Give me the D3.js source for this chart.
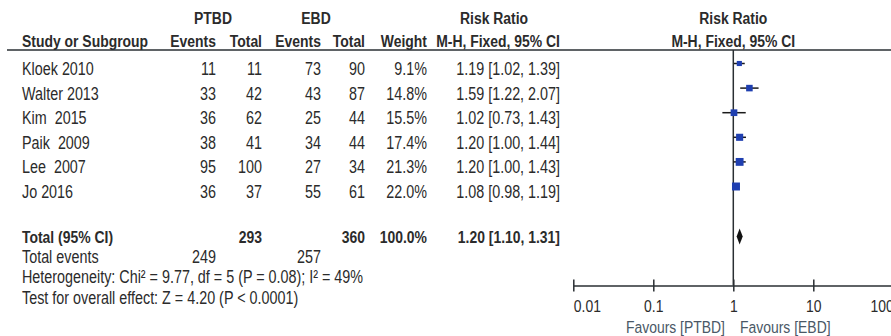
<!DOCTYPE html>
<html>
<head>
<meta charset="utf-8">
<script src="https://cdn.jsdelivr.net/npm/d3@7"></script>
<style>
  html, body { margin: 0; padding: 0; background: #fff; }
  svg { display: block; }
  text { font-size: 17.5px; fill: #2b2b2b; white-space: pre; }
  text.b { font-size: 17px; }
</style>
</head>
<body>
<svg id="chart" width="891" height="336"></svg>
<script>
// ---- data ----
const studies    = ["Kloek 2010", "Walter 2013", "Kim  2015", "Paik  2009", "Lee  2007", "Jo 2016"];
const ptbdEvents = [11, 33, 36, 38, 95, 36];
const ptbdTotal  = [11, 42, 62, 41, 100, 37];
const ebdEvents  = [73, 43, 25, 34, 27, 55];
const ebdTotal   = [90, 87, 44, 44, 34, 61];
const weights    = [9.1, 14.8, 15.5, 17.4, 21.3, 22.0];
const riskRatio  = [1.19, 1.59, 1.02, 1.20, 1.20, 1.08];
const ciLow      = [1.02, 1.22, 0.73, 1.00, 1.00, 0.98];
const ciHigh     = [1.39, 2.07, 1.43, 1.44, 1.43, 1.19];
const pooled     = [1.20, 1.10, 1.31];          // estimate, lower, upper
const totals     = [293, 360, 100.0];            // PTBD total, EBD total, weight
const totalEvents = [249, 257];
const heterogeneity = "Heterogeneity: Chi\u00b2 = 9.77, df = 5 (P = 0.08); I\u00b2 = 49%";
const overallTest   = "Test for overall effect: Z = 4.20 (P < 0.0001)";
const axisTicks  = [0.01, 0.1, 1, 10, 100];
const favours    = ["Favours [PTBD]", "Favours [EBD]"];

// ---- font: prefer a narrow sans; otherwise squeeze a regular one ----
function hasFont(name) {
  const c = document.createElement("canvas").getContext("2d");
  const probe = "Study or Subgroup 0123456789";
  c.font = "40px monospace";
  const a = c.measureText(probe).width;
  c.font = `40px "${name}", monospace`;
  const b = c.measureText(probe).width;
  return Math.abs(a - b) > 1;
}
const narrow = hasFont("Liberation Sans Narrow") || hasFont("Arial Narrow");
const FAMILY = narrow ? '"Liberation Sans Narrow", "Arial Narrow", sans-serif'
                      : '"Liberation Sans", Arial, sans-serif';
const SX = narrow ? 1 : 0.82;

const svg = d3.select("#chart");
svg.style("font-family", FAMILY);

function label(parent, x, y, s, anchor = "start", bold = false) {
  return parent.append("text")
    .attr("class", bold ? "b" : null)
    .attr("transform", `translate(${x},${y}) scale(${SX},1)`)
    .attr("text-anchor", anchor)
    .attr("font-weight", bold ? "bold" : null)
    .style("font-family", FAMILY)
    .text(s);
}

// ---- layout ----
const col = { study: 22, evA: 216, totA: 262, evB: 321, totB: 365, weight: 427, rr: 560 };
const headY1 = 24, headY2 = 47, ruleY = 50;
const axisY = 285.5;
const rowY = d3.scaleLinear().domain([0, studies.length - 1]).range([75, 198]);
const markOffset = -11.5;
const x = d3.scaleLog().domain([0.01, 100]).range([573.3, 893.3]);
const fmt2 = d3.format(".2f");
const ink = "#2a2f33";

const table = svg.append("g");

// header
label(table, 213, headY1, "PTBD", "middle", true);
label(table, 316, headY1, "EBD", "middle", true);
label(table, 494, headY1, "Risk Ratio", "middle", true);
label(table, x(1), headY1, "Risk Ratio", "middle", true);

label(table, col.study, headY2, "Study or Subgroup", "start", true);
label(table, col.evA, headY2, "Events", "end", true);
label(table, col.totA, headY2, "Total", "end", true);
label(table, col.evB, headY2, "Events", "end", true);
label(table, col.totB, headY2, "Total", "end", true);
label(table, col.weight, headY2, "Weight", "end", true);
label(table, col.rr, headY2, "M-H, Fixed, 95% CI", "end", true);
label(table, x(1), headY2, "M-H, Fixed, 95% CI", "middle", true);

svg.append("line")
  .attr("x1", 7).attr("x2", 891).attr("y1", ruleY).attr("y2", ruleY)
  .attr("stroke", ink).attr("stroke-width", 1.5);

// study rows
studies.forEach((s, i) => {
  const y = rowY(i);
  label(table, col.study, y, s);
  label(table, col.evA, y, ptbdEvents[i], "end");
  label(table, col.totA, y, ptbdTotal[i], "end");
  label(table, col.evB, y, ebdEvents[i], "end");
  label(table, col.totB, y, ebdTotal[i], "end");
  label(table, col.weight, y, d3.format(".1f")(weights[i]) + "%", "end");
  label(table, col.rr, y, `${fmt2(riskRatio[i])} [${fmt2(ciLow[i])}, ${fmt2(ciHigh[i])}]`, "end");
});

// totals
const totY = 243;
label(table, col.study, totY, "Total (95% CI)", "start", true);
label(table, col.totA, totY, totals[0], "end", true);
label(table, col.totB, totY, totals[1], "end", true);
label(table, col.weight, totY, d3.format(".1f")(totals[2]) + "%", "end", true);
label(table, col.rr, totY, `${fmt2(pooled[0])} [${fmt2(pooled[1])}, ${fmt2(pooled[2])}]`, "end", true);

label(table, col.study, 263, "Total events");
label(table, col.evA, 263, totalEvents[0], "end");
label(table, col.evB, 263, totalEvents[1], "end");
label(table, col.study, 283, heterogeneity);
label(table, col.study, 304, overallTest);

// ---- forest plot ----
const plot = svg.append("g");

plot.append("line")
  .attr("x1", x(1)).attr("x2", x(1)).attr("y1", ruleY).attr("y2", axisY)
  .attr("stroke", ink).attr("stroke-width", 1.5);

const size = d => 1.7 * Math.sqrt(d);
studies.forEach((s, i) => {
  const y = rowY(i) + markOffset;
  plot.append("line")
    .attr("x1", x(ciLow[i])).attr("x2", x(ciHigh[i]))
    .attr("y1", y).attr("y2", y)
    .attr("stroke", "#1a1a1a").attr("stroke-width", 1.5);
  const w = size(weights[i]);
  plot.append("rect")
    .attr("x", x(riskRatio[i]) - w / 2).attr("y", y - w / 2)
    .attr("width", w).attr("height", w)
    .attr("fill", "#1f3fb0");
});

// pooled diamond
const dy = totY - 6.5, dh = 8;
plot.append("path")
  .attr("d", `M${x(pooled[1])},${dy} L${x(pooled[0])},${dy - dh} L${x(pooled[2])},${dy} L${x(pooled[0])},${dy + dh} Z`)
  .attr("fill", "#111");

// axis
const axis = d3.axisBottom(x)
  .tickValues(axisTicks)
  .tickFormat(d => String(d))
  .tickSizeOuter(0);
const ax = plot.append("g").attr("transform", `translate(0,${axisY})`).call(axis);
ax.select(".domain").attr("stroke", ink).attr("stroke-width", 1.5);
ax.selectAll(".tick line")
  .attr("y1", -6).attr("y2", 6)
  .attr("stroke", ink).attr("stroke-width", 1.5);
ax.selectAll(".tick text")
  .attr("dy", null).attr("y", null)
  .attr("transform", `translate(0,${312 - axisY}) scale(${SX},1)`)
  .attr("text-anchor", (d, i) => i === 0 ? "start" : (i === axisTicks.length - 1 ? "end" : "middle"))
  .style("font-family", FAMILY)
  .style("font-size", "17px")
  .attr("fill", "#2b2b2b");
ax.attr("font-family", null).attr("font-size", null);

const fav = plot.append("g");
label(fav, 725, 333, favours[0], "end").style("fill", "#4a5866").style("font-size", "17px");
label(fav, 740, 333, favours[1], "start").style("fill", "#4a5866").style("font-size", "17px");
</script>
</body>
</html>
